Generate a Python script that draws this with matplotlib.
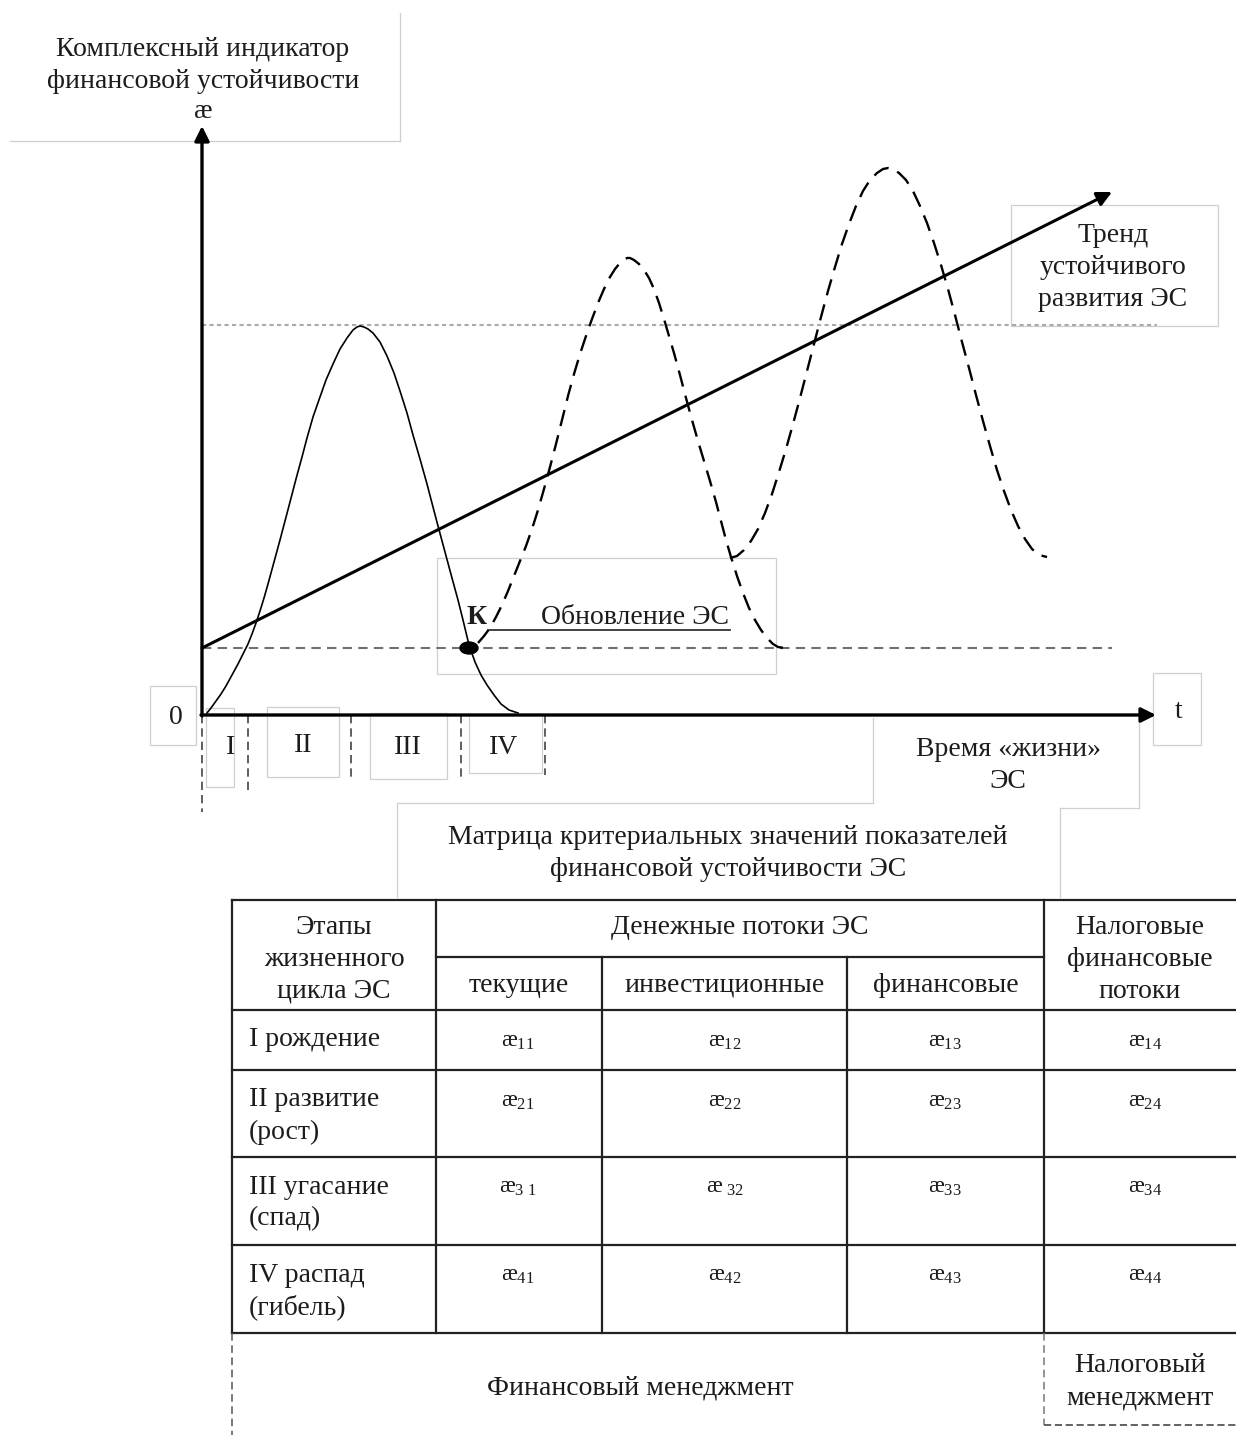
import numpy as np
import matplotlib
matplotlib.use('Agg')
import matplotlib.pyplot as plt
from matplotlib.patches import Ellipse, Rectangle

plt.rcParams['font.family'] = ['Liberation Serif', 'DejaVu Serif']
plt.rcParams['mathtext.fontset'] = 'custom'
plt.rcParams['mathtext.rm'] = 'Liberation Serif'
plt.rcParams['mathtext.it'] = 'Liberation Serif'
plt.rcParams['text.color'] = '#1c1c1c'

# --- curves (pixel coords, y down) ---
SOLID_X = [207, 211, 216, 221, 226, 232, 238, 243, 248, 252, 256, 260, 264, 268,
           274, 280, 285, 290, 296, 302, 307, 313, 320, 326, 333, 340, 347, 353,
           357, 360, 364, 368, 373, 380, 387, 394, 400, 407, 413, 420, 427, 433,
           438, 445, 452, 458, 463, 469, 475, 481, 487, 494, 501, 509, 518]
SOLID_Y = [713, 708, 701, 694, 686, 675, 664, 654, 644, 634, 623, 611, 598, 584,
           562, 540, 521, 502, 479, 457, 438, 417, 397, 380, 364, 349, 338, 330,
           327, 326, 327, 329, 333, 342, 356, 373, 391, 413, 435, 459, 484, 507,
           526, 552, 578, 600, 620, 645, 662, 675, 685, 695, 704, 710, 713]

WAVE1_X = [478, 484, 490, 496, 502, 508, 514, 520, 526, 532, 538, 544, 550, 556,
           562, 568, 574, 580, 586, 592, 598, 604, 610, 615, 620, 624, 627, 630,
           634, 639, 644, 649, 654, 659, 664, 669, 674, 680, 686, 692, 698, 704,
           710, 716, 721, 726, 731, 737, 743, 749, 755, 761, 767, 773, 778, 784]
WAVE1_Y = [643, 636, 628, 617, 605, 591, 576, 561, 546, 529, 510, 489, 467, 444,
           420, 396, 374, 354, 336, 319, 303, 289, 277, 269, 263, 260, 258, 258,
           260, 264, 270, 278, 289, 303, 319, 336, 353, 375, 398, 420, 441, 461,
           481, 502, 521, 540, 557, 576, 593, 608, 620, 630, 638, 644, 647, 648]

WAVE2_X = [730, 737, 744, 751, 758, 765, 772, 779, 786, 793, 800, 807, 814, 821,
           828, 835, 842, 849, 856, 863, 870, 877, 883, 888, 893, 899, 906, 913,
           920, 927, 934, 941, 948, 955, 962, 969, 976, 983, 990, 997, 1004, 1011,
           1018, 1025, 1032, 1039, 1047]
WAVE2_Y = [558, 556, 550, 541, 529, 513, 494, 472, 449, 424, 398, 371, 344, 317,
           291, 267, 244, 224, 206, 191, 180, 173, 169, 168, 169, 173, 180, 191,
           206, 223, 243, 265, 289, 315, 342, 368, 395, 421, 446, 470, 491, 510,
           526, 539, 549, 555, 557]

TREND_START = (202, 648)
TREND_END = (1112, 192)
K_POINT = (469, 648)
LEVEL_RENEW = 648
LEVEL_TOP = 325

STAGES = ['I', 'II', 'III', 'IV']
STAGE_BOUNDS = [202, 248, 351, 461, 545]

# --- table content ---
ROW_LABELS = [['I рождение'], ['II развитие', '(рост)'],
              ['III угасание', '(спад)'], ['IV распад', '(гибель)']]
SUB_HEADS = ['текущие', 'инвестиционные', 'финансовые']
CELL_IDX = [['11', '12', '13', '14'], ['21', '22', '23', '24'],
            ['3 1', ' 32', '33', '34'], ['41', '42', '43', '44']]

fig = plt.figure(figsize=(12.36, 14.35), dpi=100)
ax = fig.add_axes([0, 0, 1, 1])
ax.set_xlim(0, 1236)
ax.set_ylim(1435, 0)
ax.axis('off')

FS = 20
BOX = '#cfcfcf'


def gbox(x0, y0, x1, y1):
    ax.add_patch(Rectangle((x0, y0), x1 - x0, y1 - y0, fill=False,
                           ec=BOX, lw=0.9, zorder=1))


def gline(xs, ys):
    ax.plot(xs, ys, color=BOX, lw=0.9, zorder=1)


# grey text boxes
gline([400, 400], [13, 141])
gline([10, 400], [141, 141])
gbox(1011, 205, 1218, 326)
gbox(437, 558, 776, 674)
gbox(150, 686, 196, 745)
gbox(1153, 673, 1201, 745)
gbox(206, 708, 234, 787)
gbox(267, 707, 339, 777)
gbox(370, 713, 447, 779)
gbox(469, 714, 542, 773)
gline([873, 873], [718, 803])
gline([1139, 1139], [715, 808])
gline([1060, 1139], [808, 808])
gline([397, 873], [803, 803])
gline([397, 397], [803, 897])
gline([1060, 1060], [808, 897])

# reference levels
ax.plot([202, 1157], [LEVEL_TOP, LEVEL_TOP], color='#aaaaaa', lw=1.5,
        dashes=(2, 1.6), zorder=2)
ax.plot([202, 1112], [LEVEL_RENEW, LEVEL_RENEW], color='#707070', lw=1.5,
        dashes=(4.5, 3), zorder=2)

# stage separators
for i, xb in enumerate(STAGE_BOUNDS):
    yb = [812, 790, 777, 777, 775][i]
    ax.plot([xb, xb], [715, yb], color='#444444', lw=1.2, dashes=(5, 3), zorder=2)

# axes with arrows
ax.annotate('', xy=(202, 126), xytext=(202, 716),
            arrowprops=dict(arrowstyle='-|>', lw=2.4, color='black',
                            mutation_scale=22, shrinkA=0, shrinkB=0))
ax.annotate('', xy=(1156, 715), xytext=(201, 715),
            arrowprops=dict(arrowstyle='-|>', lw=2.4, color='black',
                            mutation_scale=22, shrinkA=0, shrinkB=0))
# trend
ax.annotate('', xy=TREND_END, xytext=TREND_START,
            arrowprops=dict(arrowstyle='-|>', lw=2.2, color='black',
                            mutation_scale=22, shrinkA=0, shrinkB=0))

# curves
ax.plot(SOLID_X, SOLID_Y, color='black', lw=1.2, zorder=3, solid_joinstyle='round')
ax.plot(WAVE1_X, WAVE1_Y, color='black', lw=1.7, dashes=(7, 4), zorder=3)
ax.plot(WAVE2_X, WAVE2_Y, color='black', lw=1.7, dashes=(7, 4), zorder=3)
ax.add_patch(Ellipse(K_POINT, 18, 12, color='black', zorder=4))

# chart texts
ax.text(203, 49, 'Комплексный индикатор', ha='center', va='center', fontsize=FS)
ax.text(203, 81, 'финансовой устойчивости', ha='center', va='center', fontsize=FS)
ax.text(203, 111, 'æ', ha='center', va='center', fontsize=FS)
for t, yy in zip(['Тренд', 'устойчивого', 'развития ЭС'], [236, 268, 300]):
    ax.text(1113, yy, t, ha='center', va='center', fontsize=FS)
ax.text(176, 717, '0', ha='center', va='center', fontsize=FS)
ax.text(1179, 712, 't', ha='center', va='center', fontsize=FS)
for s, xx, yy in zip(STAGES, [231, 303, 408, 504], [748, 745, 748, 748]):
    ax.text(xx, yy, s, ha='center', va='center', fontsize=FS)
ax.text(477, 618, 'К', ha='center', va='center', fontsize=FS, fontweight='bold')
ax.text(635, 618, 'Обновление ЭС', ha='center', va='center', fontsize=FS)
ax.plot([488, 730], [630, 630], color='#333333', lw=1.3)
ax.text(1008, 750, 'Время «жизни»', ha='center', va='center', fontsize=FS)
ax.text(1008, 781, 'ЭС', ha='center', va='center', fontsize=FS)
ax.text(728, 838, 'Матрица критериальных значений показателей',
        ha='center', va='center', fontsize=FS)
ax.text(728, 870, 'финансовой устойчивости ЭС', ha='center', va='center', fontsize=FS)

# table grid
col_x = [232, 436, 602, 847, 1044, 1236]
row_y = [900, 957, 1010, 1070, 1157, 1245, 1333]
TC = '#222222'
for yy in [900, 1010, 1070, 1157, 1245, 1333]:
    ax.plot([232, 1236], [yy, yy], color=TC, lw=1.6)
ax.plot([436, 1044], [957, 957], color=TC, lw=1.6)
for xx in [232, 436, 1044]:
    ax.plot([xx, xx], [900, 1333], color=TC, lw=1.6)
for xx in [602, 847]:
    ax.plot([xx, xx], [957, 1333], color=TC, lw=1.6)

# table header
for t, yy in zip(['Этапы', 'жизненного', 'цикла ЭС'], [927, 959, 991]):
    ax.text(334, yy, t, ha='center', va='center', fontsize=FS)
ax.text(740, 927, 'Денежные потоки ЭС', ha='center', va='center', fontsize=FS)
for i, t in enumerate(SUB_HEADS):
    ax.text((col_x[i + 1] + col_x[i + 2]) / 2, 985, t, ha='center', va='center',
            fontsize=FS)
for t, yy in zip(['Налоговые', 'финансовые', 'потоки'], [927, 959, 992]):
    ax.text(1140, yy, t, ha='center', va='center', fontsize=FS)

# rows
cell_cx = [518, 725, 945, 1145]
for r in range(4):
    top = row_y[r + 2]
    for k, t in enumerate(ROW_LABELS[r]):
        ax.text(249, top + 30 + 32 * k, t, ha='left', va='center', fontsize=FS)
    for c in range(4):
        ax.text(cell_cx[c], top + 31, 'æ$_{' + CELL_IDX[r][c].replace(' ', '\\ ') + '}$',
                ha='center', va='center', fontsize=17)

# management section
ax.plot([232, 232], [1333, 1435], color='#555555', lw=1.1, dashes=(5, 3))
ax.plot([1044, 1044], [1333, 1425], color='#777777', lw=1.1, dashes=(5, 3))
ax.plot([1044, 1236], [1425, 1425], color='#555555', lw=1.3, dashes=(4, 2))
ax.text(640, 1388, 'Финансовый менеджмент', ha='center', va='center', fontsize=FS)
ax.text(1140, 1366, 'Налоговый', ha='center', va='center', fontsize=FS)
ax.text(1140, 1398, 'менеджмент', ha='center', va='center', fontsize=FS)

fig.savefig('out.png', dpi=100)
